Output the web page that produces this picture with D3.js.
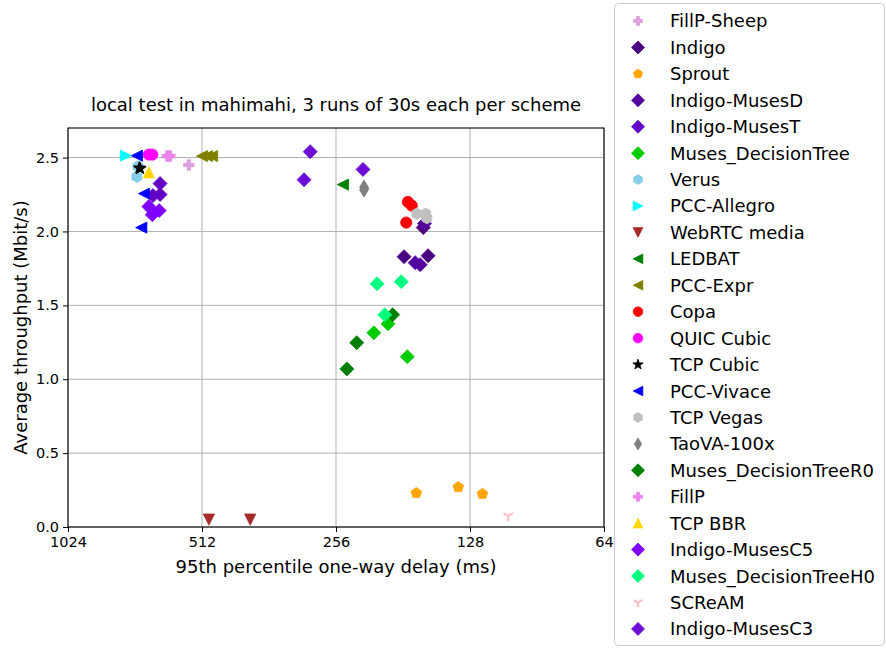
<!DOCTYPE html>
<html><head><meta charset="utf-8">
<script src="https://cdn.jsdelivr.net/npm/d3@7"></script>
<style>body{margin:0;background:#fff}svg{font-family:"DejaVu Sans",sans-serif}</style>
</head><body><svg id="c" width="886" height="648"></svg>
<script>
// ---- data ----
const schemes = ["FillP-Sheep","Indigo","Sprout","Indigo-MusesD","Indigo-MusesT","Muses_DecisionTree","Verus","PCC-Allegro","WebRTC media","LEDBAT","PCC-Expr","Copa","QUIC Cubic","TCP Cubic","PCC-Vivace","TCP Vegas","TaoVA-100x","Muses_DecisionTreeR0","FillP","TCP BBR","Indigo-MusesC5","Muses_DecisionTreeH0","SCReAM","Indigo-MusesC3"];
const colors = ["#dda0dd","#4b0082","#ffa500","#53009e","#6200c4","#00cc00","#87ceeb","#00ffff","#a52a2a","#008000","#808000","#ff0000","#ff00ff","#000000","#0000ff","#c0c0c0","#808080","#008000","#ee82ee","#ffd700","#7f00ff","#00ff7f","#ffc0cb","#6c0ed6"];
const markers = ["P","D","p","D","D","D","h",">","v","<","<","o","o","*","<","h","d","D","P","^","D","D","1","D"];
// delays (ms) and throughputs (Mbit/s), one array per scheme
const delays = [
  [613,604,548],[180,159,163],[169,136,120],[170,165.6,162],[636,636,660],
  [210.5,195.6,177],[713,717],[759],[494,399],[247],[512,499,486],
  [176.5,173,178],[674,662],[705,708],[717,691,701],[168.5,160,161],
  [221.5,221.5,221],[230,242,191],[608],[674],[674,639,662],
  [207,182.6,198.9],[105],[292.5,302,222.6]
];
const tputs = [
  [2.51,2.51,2.45],[1.829,1.836,2.026],[0.23,0.27,0.224],[1.789,1.775,2.053],[2.324,2.25,2.243],
  [1.314,1.375,1.152],[2.44,2.37],[2.513],[0.05,0.05],[2.317],[2.51,2.51,2.51],
  [2.20,2.175,2.06],[2.52,2.52],[2.425,2.43],[2.513,2.256,2.026],[2.12,2.09,2.12],
  [2.30,2.28,2.29],[1.247,1.07,1.436],[2.51],[2.40],[2.168,2.141,2.113],
  [1.646,1.66,1.436],[0.075],[2.54,2.35,2.42]
];
const xTicks = [1024,512,256,128,64];
const yTicks = [0,0.5,1.0,1.5,2.0,2.5];
const title = "local test in mahimahi, 3 runs of 30s each per scheme";
const xLabel = "95th percentile one-way delay (ms)";
const yLabel = "Average throughput (Mbit/s)";

// ---- layout ----
const L=68,R=604,T=128,B=527;
const svg=d3.select("#c");
const x=d3.scaleLog().base(2).domain([1024,64]).range([L,R]);
const y=d3.scaleLinear().domain([0,2.7]).range([B,T]);

function markerPath(t,r){
  const pts=(arr)=>"M"+arr.map(p=>p[0].toFixed(2)+","+p[1].toFixed(2)).join("L")+"Z";
  const poly=(n,rad,rot)=>d3.range(n).map(k=>{const a=rot+k*2*Math.PI/n;return [rad*Math.cos(a),rad*Math.sin(a)];});
  switch(t){
    case "D": return pts([[0,-r],[r,0],[0,r],[-r,0]]);
    case "d": return pts([[0,-r],[0.62*r,0],[0,r],[-0.62*r,0]]);
    case "o": {const c=r*0.8;return `M${c},0A${c},${c} 0 1,1 ${-c},0A${c},${c} 0 1,1 ${c},0Z`;}
    case "h": return pts(poly(6,r*0.82,-Math.PI/2));
    case "p": return pts(poly(5,r*0.8,-Math.PI/2));
    case "*": {const o=r*0.9,i=o*0.4;return pts(d3.range(10).map(k=>{const a=-Math.PI/2+k*Math.PI/5,q=k%2?i:o;return [q*Math.cos(a),q*Math.sin(a)];}));}
    case "^": {const s=r*0.8;return pts([[0,-s],[s,s],[-s,s]]);}
    case "v": {const s=r*0.8;return pts([[0,s],[s,-s],[-s,-s]]);}
    case ">": {const s=r*0.8;return pts([[s,0],[-s,-s],[-s,s]]);}
    case "<": {const s=r*0.8;return pts([[-s,0],[s,-s],[s,s]]);}
    case "P": {const s=r*0.75,w=s/3;return pts([[-w,-s],[w,-s],[w,-w],[s,-w],[s,w],[w,w],[w,s],[-w,s],[-w,w],[-s,w],[-s,-w],[-w,-w]]);}
    case "1": {const s=r*0.8;return `M0,0L0,${s}M0,0L${-0.866*s},${-0.5*s}M0,0L${0.866*s},${-0.5*s}`;}
  }
}
function drawMarker(g,t,col,r){
  const p=g.append("path").attr("d",markerPath(t,r));
  if(t==="1") p.attr("fill","none").attr("stroke",col).attr("stroke-width",2.2);
  else p.attr("fill",col).attr("stroke",col).attr("stroke-width",0.8);
}

// grid
svg.append("g").selectAll("line").data(xTicks).join("line")
  .attr("x1",d=>x(d)).attr("x2",d=>x(d)).attr("y1",T).attr("y2",B)
  .attr("stroke","#b0b0b0").attr("stroke-width",1);
svg.append("g").selectAll("line").data(yTicks).join("line")
  .attr("x1",L).attr("x2",R).attr("y1",d=>y(d)).attr("y2",d=>y(d))
  .attr("stroke","#b0b0b0").attr("stroke-width",1);

// points
schemes.forEach((s,i)=>{
  const g=svg.append("g");
  delays[i].forEach((d,j)=>{
    const m=g.append("g").attr("transform",`translate(${x(d)},${y(tputs[i][j])})`);
    drawMarker(m,markers[i],colors[i],7);
  });
});

// spines
svg.append("rect").attr("x",L).attr("y",T).attr("width",R-L).attr("height",B-T)
  .attr("fill","none").attr("stroke","#000").attr("stroke-width",1.1);

// axes
const xa=svg.append("g").attr("transform",`translate(0,${B})`)
  .call(d3.axisBottom(x).tickValues(xTicks).tickFormat(d3.format("d")).tickSize(5).tickPadding(5));
const ya=svg.append("g").attr("transform",`translate(${L},0)`)
  .call(d3.axisLeft(y).tickValues(yTicks).tickFormat(d3.format(".1f")).tickSize(5).tickPadding(4));
[xa,ya].forEach(a=>{a.select(".domain").remove();a.selectAll("text").attr("font-size",14.5).attr("fill","#000").attr("font-family","DejaVu Sans");a.selectAll("line").attr("stroke","#000");});

svg.append("text").attr("x",(L+R)/2).attr("y",111).attr("text-anchor","middle").attr("font-size",18).text(title);
svg.append("text").attr("x",(L+R)/2).attr("y",573).attr("text-anchor","middle").attr("font-size",18).text(xLabel);
svg.append("text").attr("transform",`translate(27,${(T+B)/2}) rotate(-90)`).attr("text-anchor","middle").attr("font-size",18).text(yLabel);

// legend
const lg=svg.append("g");
lg.append("rect").attr("x",614.5).attr("y",3.5).attr("width",270).attr("height",642).attr("rx",4)
  .attr("fill","#fff").attr("fill-opacity",0.8).attr("stroke","#cccccc");
schemes.forEach((s,i)=>{
  const yy=21+i*26.43;
  const m=lg.append("g").attr("transform",`translate(638,${yy})`);
  drawMarker(m,markers[i],colors[i],markers[i]==="D"?6.5:6);
  lg.append("text").attr("x",670).attr("y",yy).attr("dy","0.36em").attr("font-size",18).text(s);
});
</script></body></html>
